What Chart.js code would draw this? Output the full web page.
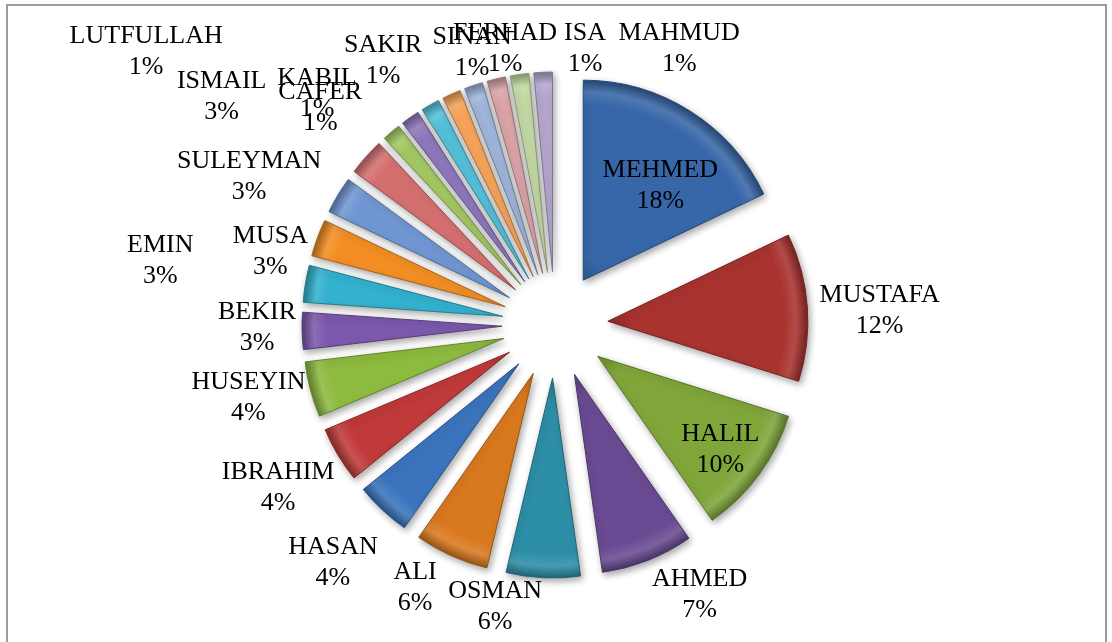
<!DOCTYPE html>
<html>
<head>
<meta charset="utf-8">
<script src="https://cdn.jsdelivr.net/npm/chart.js@4.4.0/dist/chart.umd.min.js"></script>
<style>
  html, body { margin: 0; padding: 0; background: #fff; overflow: hidden; }
  #frame { position: absolute; left: 6px; top: 4px; width: 1097px; height: 660px; border: 2px solid #9b9b9b; border-bottom: none; }
  #wrap { position: absolute; left: 0; top: 0; width: 1112px; height: 642px; }
</style>
</head>
<body>
<div id="frame"></div>
<div id="wrap"><canvas id="names-pie" width="1112" height="642"></canvas></div>
<script>
// data
const names = ['MEHMED', 'MUSTAFA', 'HALIL', 'AHMED', 'OSMAN', 'ALI', 'HASAN', 'IBRAHIM', 'HUSEYIN',
    'BEKIR', 'MUSA', 'EMIN', 'SULEYMAN', 'ISMAIL', 'KABIL', 'CAFER', 'LUTFULLAH', 'SAKIR', 'SINAN',
    'FERHAD', 'ISA', 'MAHMUD'];
const counts = [12, 8, 7, 5, 4, 4, 3, 3, 3, 2, 2, 2, 2, 2, 1, 1, 1, 1, 1, 1, 1, 1];

// styles
const sliceColors = [
    '#3767a8', '#a9332f', '#80a63a', '#6a4b93', '#2d8fa7', '#d9791f',
    '#3b74bd', '#c03a3a', '#8dbb3f', '#7c59ad', '#33b2cf', '#f28e24',
    '#7097d3', '#d46f6f', '#a3c862', '#8e78bc', '#55c0d9', '#f6a45a',
    '#a0b5dc', '#dba4a8', '#c3d9a4', '#b5a8cf'
];
// where Excel put each label: [distance from pie centre, angle clockwise from top]
const labelSpots = [
    [175, 37], [325, 87.4], [207, 127], [306, 151.8], [288, 192], [298, 208],
    [325, 223.1], [321, 239.6], [315, 256.7], [298, 269.5], [294, 284.5], [400, 279.3],
    [340, 295.9], [404, 304.4], [332, 314.2], [320, 312.8], [492, 303.8], [315, 326.9],
    [285, 343.1], [281, 349.75], [278, 6.2], [303, 24.2]
];
const RADIUS = 200;
const EXPLODE = 53;
const LABEL_FONT = '26px "Liberation Serif", "Times New Roman", serif';

const total = counts.reduce((a, b) => a + b, 0);

const mix = (hex, amt) => {
    // amt > 0 lightens toward white, amt < 0 darkens toward black
    const n = parseInt(hex.slice(1), 16);
    let r = n >> 16, g = (n >> 8) & 255, b = n & 255;
    const t = amt > 0 ? 255 : 0, p = Math.abs(amt);
    r = Math.round(r + (t - r) * p);
    g = Math.round(g + (t - g) * p);
    b = Math.round(b + (t - b) * p);
    return `rgb(${r},${g},${b})`;
};

const midAngle = (i) => {
    const before = counts.slice(0, i).reduce((a, b) => a + b, 0);
    return -Math.PI / 2 + (before + counts[i] / 2) / total * Math.PI * 2;
};

const explodePlugin = {
    id: 'explodeSlices',
    beforeDatasetsDraw(chart) {
        const area = chart.chartArea;
        const cx = (area.left + area.right) / 2;
        const cy = (area.top + area.bottom) / 2;
        chart.getDatasetMeta(0).data.forEach(arc => {
            const mid = (arc.startAngle + arc.endAngle) / 2;
            arc.x = cx + Math.cos(mid) * EXPLODE;
            arc.y = cy + Math.sin(mid) * EXPLODE;
        });
        const c = chart.ctx;
        c.save();
        c.shadowColor = 'rgba(0,0,0,0.35)';
        c.shadowBlur = 7;
        c.shadowOffsetX = 2;
        c.shadowOffsetY = 3;
    },
    afterDatasetsDraw(chart) {
        chart.ctx.restore();
    }
};

const labelPlugin = {
    id: 'sliceLabels',
    afterDatasetsDraw(chart) {
        const area = chart.chartArea;
        const cx = (area.left + area.right) / 2;
        const cy = (area.top + area.bottom) / 2;
        const c = chart.ctx;
        c.save();
        c.font = LABEL_FONT;
        c.fillStyle = '#000';
        c.textAlign = 'center';
        c.textBaseline = 'middle';
        names.forEach((name, i) => {
            const [r, deg] = labelSpots[i];
            const a = (deg - 90) * Math.PI / 180;
            const x = cx + Math.cos(a) * r;
            const y = cy + Math.sin(a) * r;
            const pct = Math.round(counts[i] / total * 100) + '%';
            c.fillText(name, x, y - 15.5);
            c.fillText(pct, x, y + 15.5);
        });
        c.restore();
    }
};

const ctx = document.getElementById('names-pie');
new Chart(ctx, {
    type: 'pie',
    data: {
        labels: names,
        datasets: [{
            data: counts,
            radius: RADIUS,
            borderWidth: 1,
            borderColor: (context) => mix(sliceColors[context.dataIndex % sliceColors.length], -0.3),
            backgroundColor: (context) => {
                const i = context.dataIndex;
                const base = sliceColors[i];
                const area = context.chart.chartArea;
                if (!area || i === undefined) return base;
                const mid = midAngle(i);
                const x = (area.left + area.right) / 2 + Math.cos(mid) * EXPLODE;
                const y = (area.top + area.bottom) / 2 + Math.sin(mid) * EXPLODE;
                const g = context.chart.ctx.createRadialGradient(x, y, 0, x, y, RADIUS);
                g.addColorStop(0, mix(base, -0.15));
                g.addColorStop(0.12, base);
                g.addColorStop(0.88, base);
                g.addColorStop(0.94, mix(base, 0.12));
                g.addColorStop(1, mix(base, -0.3));
                return g;
            },
        }]
    },
    options: {
        responsive: false,
        animation: false,
        layout: {
            padding: { left: 0, right: 2, top: 8, bottom: 0 }
        },
        plugins: {
            legend: { display: false },
            tooltip: { enabled: false }
        },
        events: []
    },
    plugins: [explodePlugin, labelPlugin]
});
</script>
</body>
</html>
